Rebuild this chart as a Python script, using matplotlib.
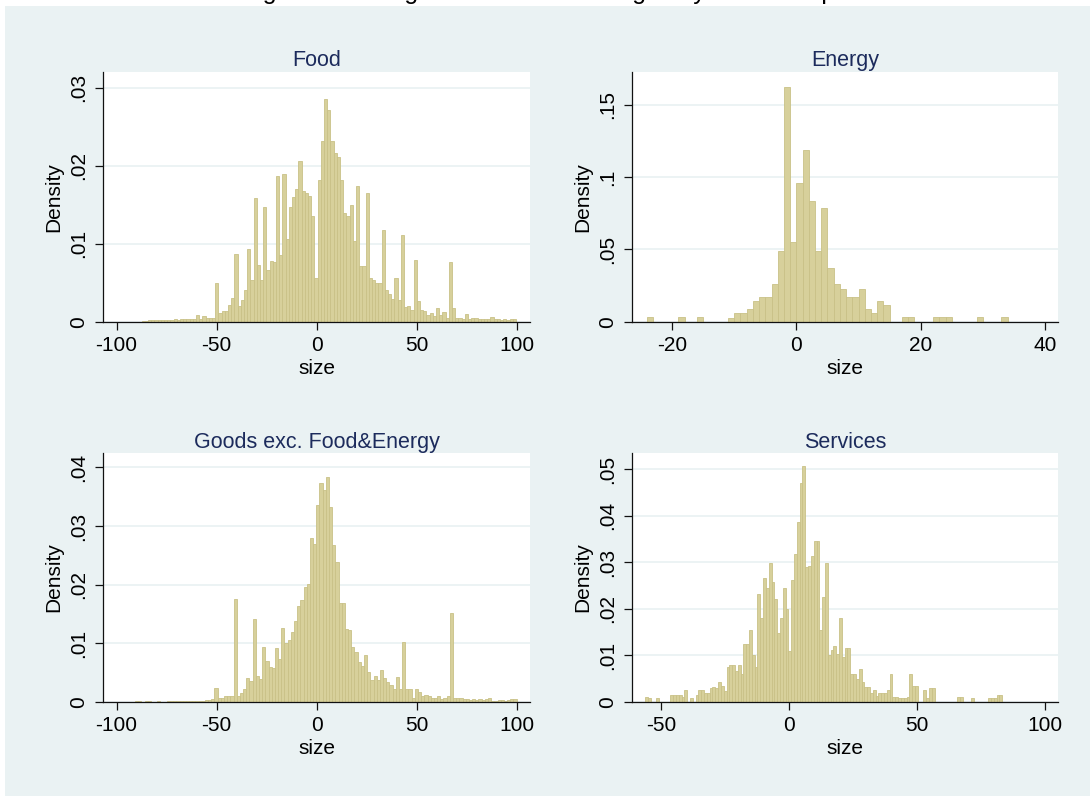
import numpy as np
import matplotlib
matplotlib.use("Agg")
import matplotlib.pyplot as plt
from matplotlib.patches import Rectangle

plt.rcParams['font.family'] = ['Liberation Sans', 'DejaVu Sans']

# histogram data: first bin edge, bin width, density per bin
food_start, food_width = -87.5, 1.6
food_dens = [0.0001,0.0001,0.0002,0.0002,0.0002,0.0002,0.0002,0.0002,0.0002,0.0002,
             0.0003,0.0002,0.0004,0.0003,0.0003,0.0003,0.0003,0.0009,0.0004,0.0007,
             0.0005,0.0005,0.0005,0.0050,0.0011,0.0014,0.0014,0.0021,0.0030,0.0087,
             0.0020,0.0028,0.0041,0.0093,0.0054,0.0159,0.0073,0.0054,0.0147,0.0066,
             0.0078,0.0077,0.0187,0.0086,0.0189,0.0106,0.0147,0.0160,0.0170,0.0206,
             0.0168,0.0165,0.0161,0.0135,0.0056,0.0182,0.0231,0.0285,0.0271,0.0231,
             0.0216,0.0211,0.0181,0.0139,0.0135,0.0150,0.0103,0.0174,0.0071,0.0071,
             0.0165,0.0056,0.0053,0.0050,0.0049,0.0118,0.0041,0.0036,0.0029,0.0056,
             0.0028,0.0111,0.0019,0.0020,0.0015,0.0079,0.0026,0.0015,0.0014,0.0009,
             0.0011,0.0007,0.0017,0.0009,0.0013,0.0005,0.0077,0.0018,0.0005,0.0005,
             0.0004,0.0010,0.0004,0.0005,0.0005,0.0004,0.0003,0.0003,0.0004,0.0006,
             0.0003,0.0003,0.0002,0.0003,0.0002,0.0003,0.0003]

energy_start, energy_width = -24.0, 1.0
energy_dens = [0.003,0,0,0,0,0.003,0,0,0.003,0,
               0,0,0,0.0028,0.0058,0.0058,0.0085,0.0143,0.0173,0.0173,
               0.026,0.0489,0.162,0.0549,0.0957,0.1187,0.0837,0.0489,0.0784,0.0373,
               0.0263,0.0228,0.0173,0.0173,0.0228,0.0085,0.0058,0.0143,0.0113,0,
               0,0.003,0.003,0,0,0,0.003,0.003,0.003,0,
               0,0,0,0.003,0,0,0,0.003]

goods_start, goods_width = -90.8, 1.59
goods_dens = [0.0002,0.0001,0,0.0001,0.0002,0,0,0.0001,0,0,
              0.0001,0.0002,0.0001,0.0001,0.0002,0.0001,0.0001,0.0002,0.0002,0.0002,
              0.0002,0.0002,0.0003,0.0003,0.0004,0.0023,0.0006,0.0007,0.0009,0.0010,
              0.0010,0.0175,0.0010,0.0014,0.0021,0.0040,0.0036,0.0141,0.0044,0.0038,
              0.0093,0.0069,0.0060,0.0057,0.0091,0.0073,0.0125,0.0101,0.0105,0.0119,
              0.0138,0.0164,0.0174,0.0196,0.0201,0.0280,0.0270,0.0336,0.0374,0.0361,
              0.0384,0.0333,0.0267,0.0238,0.0169,0.0169,0.0124,0.0122,0.0093,0.0085,
              0.0067,0.0061,0.0080,0.0051,0.0037,0.0044,0.0037,0.0054,0.0040,0.0034,
              0.0028,0.0021,0.0042,0.0021,0.0102,0.0021,0.0021,0.0006,0.0022,0.0016,
              0.0009,0.0011,0.0010,0.0006,0.0007,0.0009,0.0004,0.0006,0.0009,0.0152,
              0.0006,0.0006,0.0006,0.0005,0.0004,0.0003,0.0004,0.0003,0.0004,0.0003,
              0.0004,0.0006,0.0002,0.0002,0.0003,0.0003,0.0002,0.0003,0.0004,0.0005]

serv_start, serv_width = -56.25, 1.098
serv_dens = [0.0011,0.0007,0,0,0.0007,0,0,0,0,0.0014,
             0.0014,0.0014,0.0014,0.0011,0.0025,0,0.0007,0,0.0014,0.0025,
             0.0025,0.0018,0.0018,0.0029,0.0032,0.0029,0.0042,0.0034,0.0024,0.0074,
             0.0079,0.0079,0.0067,0.0079,0.0059,0.0125,0.0125,0.0154,0.0100,0.0074,
             0.0232,0.0179,0.0267,0.0245,0.0299,0.0258,0.0221,0.0148,0.0179,0.0244,
             0.0199,0.0108,0.0262,0.0318,0.0386,0.0470,0.0507,0.0290,0.0292,0.0313,
             0.0346,0.0346,0.0154,0.0226,0.0299,0.0100,0.0111,0.0120,0.0102,0.0179,
             0.0097,0.0115,0.0115,0.0059,0.0059,0.0048,0.0070,0.0043,0.0032,0.0032,
             0.0018,0.0025,0.0012,0.0018,0.0019,0.0019,0.0025,0.0059,0.0011,0.0011,
             0.0007,0.0007,0.0007,0.0011,0.0059,0.0034,0.0034,0,0,0.0025,
             0.0007,0.0029,0.0029,0,0,0,0,0,0,0,
             0,0.0011,0.0011,0,0,0,0.0007,0,0,0,
             0,0,0.0007,0.0007,0.0007,0.0014,0.0014]

titles = ["Food", "Energy", "Goods exc. Food&Energy", "Services"]
xticks = [[-100, -50, 0, 50, 100], [-20, 0, 20, 40],
          [-100, -50, 0, 50, 100], [-50, 0, 50, 100]]
yticks = [[0, .01, .02, .03], [0, .05, .1, .15],
          [0, .01, .02, .03, .04], [0, .01, .02, .03, .04, .05]]
ylabels = [["0", ".01", ".02", ".03"], ["0", ".05", ".1", ".15"],
           ["0", ".01", ".02", ".03", ".04"], ["0", ".01", ".02", ".03", ".04", ".05"]]
xlims = [(-106.8, 106.7), (-26.4, 42.1), (-106.8, 106.7), (-61.2, 105)]
ylims = [0.032, 0.1727, 0.0424, 0.0534]

bg = '#EAF2F3'
bar_fc = '#D7D09B'
bar_ec = '#C9C187'
title_col = '#1C2B5C'

fig = plt.figure(figsize=(10.9, 7.96), dpi=100, facecolor='white')
fig.patches.append(Rectangle((5/1090, 0), 1, 1 - 6/796, transform=fig.transFigure,
                             facecolor=bg, edgecolor='none', zorder=-10))
fig.text(0.5, 1 + 1/796, "Figure 3: Histograms of Price Changes by Sub-Groups",
         ha='center', va='baseline', fontsize=18, color='black')

# axes boxes in figure fractions (left, bottom, width, height)
lefts = [103/1090, 632.3/1090]
widths = [427/1090, 425.7/1090]
bottoms = [1 - 321.7/796, 1 - 701.7/796]
heights = [249.7/796, 248.4/796]

data = [(food_start, food_width, food_dens), (energy_start, energy_width, energy_dens),
        (goods_start, goods_width, goods_dens), (serv_start, serv_width, serv_dens)]

for i, (start, w, dens) in enumerate(data):
    r, c = divmod(i, 2)
    ax = fig.add_axes([lefts[c], bottoms[r], widths[c], heights[r]])
    ax.set_facecolor('white')
    dens = np.array(dens)
    edges = start + w * np.arange(len(dens))
    keep = dens > 0
    ax.bar(edges[keep], dens[keep], width=w, align='edge',
           color=bar_fc, edgecolor=bar_ec, linewidth=0.6, zorder=2)
    ax.set_xlim(*xlims[i])
    ax.set_ylim(0, ylims[i])
    ax.set_xticks(xticks[i])
    ax.set_xticklabels([str(t) for t in xticks[i]])
    ax.set_yticks(yticks[i])
    ax.set_yticklabels(ylabels[i], rotation=90, va='center')
    ax.yaxis.grid(True, color=bg, linewidth=1.3, zorder=0)
    ax.set_axisbelow(True)
    for s in ['top', 'right']:
        ax.spines[s].set_visible(False)
    for s in ['left', 'bottom']:
        ax.spines[s].set_color('#111111')
        ax.spines[s].set_linewidth(0.9)
    ax.tick_params(axis='both', length=6, width=0.9, color='#111111',
                   labelsize=15, labelcolor='black')
    ax.tick_params(axis='y', pad=5)
    ax.tick_params(axis='x', pad=4)
    ax.set_title(titles[i], fontsize=15.5, color=title_col, pad=4)
    ax.set_xlabel("size", fontsize=15, labelpad=3)
    ax.set_ylabel("Density", fontsize=15, labelpad=4)

plt.savefig("out.png", dpi=100, facecolor=fig.get_facecolor())
